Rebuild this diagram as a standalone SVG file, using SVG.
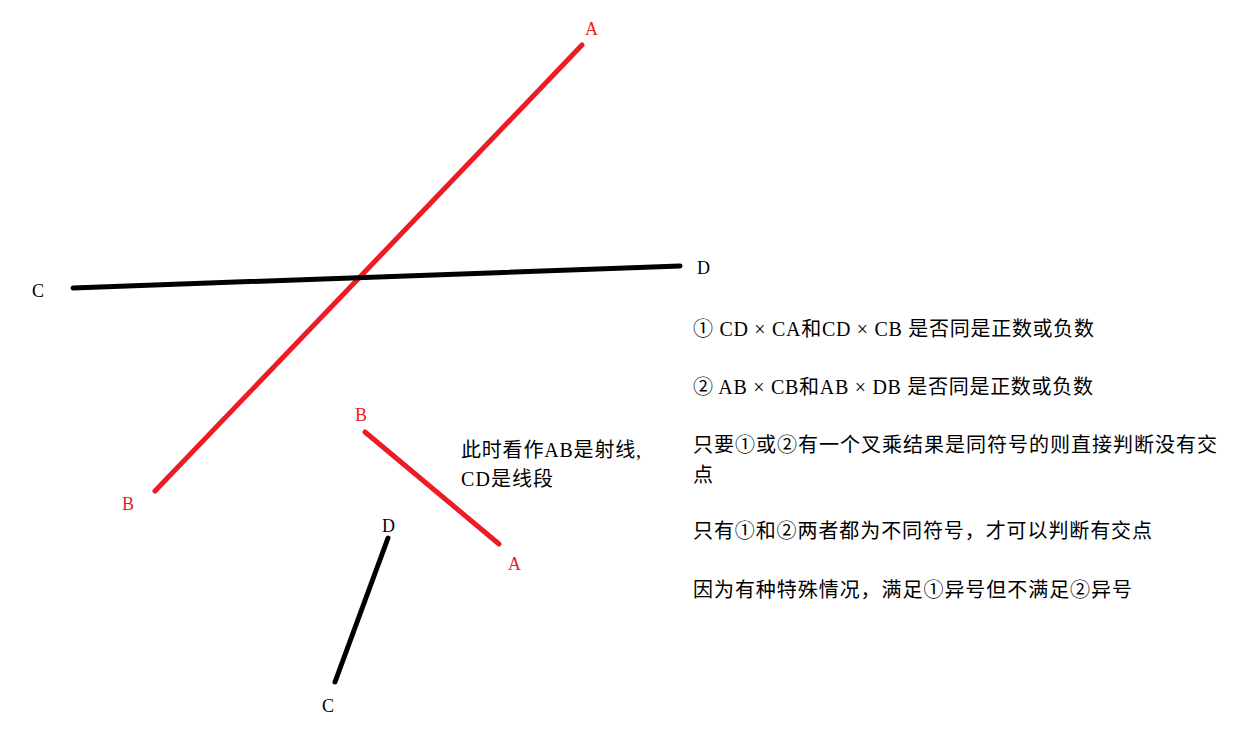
<svg xmlns="http://www.w3.org/2000/svg" width="1244" height="740" viewBox="0 0 1244 740">
<style>
.red{stroke:#ed1c24;stroke-width:5;stroke-linecap:round;fill:none}
.blk{stroke:#000;stroke-width:5;stroke-linecap:round;fill:none}
.lbl{font-family:"Liberation Serif","Noto Sans CJK SC",serif;font-size:18px}
.lr{fill:#ed1c24}
.lk{fill:#000}
.t{font-family:"Liberation Serif","Noto Sans CJK SC",serif;font-size:20px;fill:#000}
</style>
<rect width="1244" height="740" fill="#fff"/>
<g id="connectors">
<line class="red" x1="582" y1="45" x2="155" y2="491"/>
<line class="blk" x1="73" y1="288" x2="680" y2="266"/>
<line class="red" x1="365" y1="432" x2="499" y2="544"/>
<line class="blk" x1="388" y1="538" x2="335" y2="682"/>
</g>
<g id="labels1">
<text class="lbl lr" x="585" y="35">A</text>
<text class="lbl lr" x="122" y="510">B</text>
<text class="lbl lk" x="32" y="297">C</text>
<text class="lbl lk" x="697" y="274">D</text>
</g>
<g id="labels2">
<text class="lbl lr" x="355" y="421">B</text>
<text class="lbl lr" x="508" y="570">A</text>
<text class="lbl lk" x="382" y="532">D</text>
<text class="lbl lk" x="322" y="712">C</text>
</g>
<g id="note">
<text class="t" x="461" y="457" textLength="180">此时看作AB是射线,</text>
<text class="t" x="461" y="486" textLength="92">CD是线段</text>
</g>
<g id="explanation">
<text class="t" x="693" y="336" textLength="401">① CD × CA和CD × CB 是否同是正数或负数</text>
<text class="t" x="693" y="394" textLength="400">② AB × CB和AB × DB  是否同是正数或负数</text>
<text class="t" x="693" y="452" textLength="524">只要①或②有一个叉乘结果是同符号的则直接判断没有交</text>
<text class="t" x="693" y="482">点</text>
<text class="t" x="693" y="538" textLength="459">只有①和②两者都为不同符号，才可以判断有交点</text>
<text class="t" x="693" y="597" textLength="439">因为有种特殊情况，满足①异号但不满足②异号</text>
</g>
</svg>
